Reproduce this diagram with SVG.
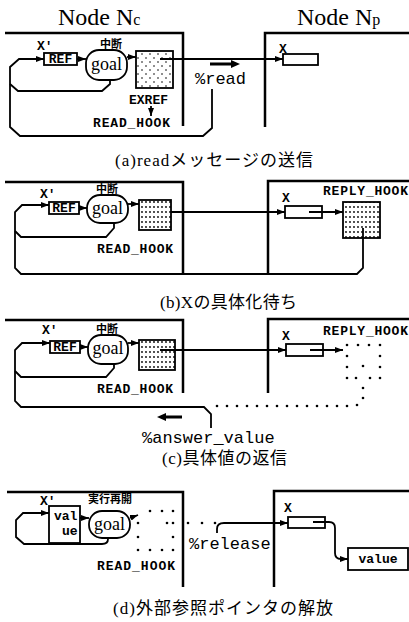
<svg xmlns="http://www.w3.org/2000/svg" width="409" height="622" viewBox="0 0 409 622">
<style>
.fr{fill:none;stroke:#000;stroke-width:2.5}
.ln{fill:none;stroke:#000;stroke-width:1.8}
.bx{fill:#fff;stroke:#000;stroke-width:1.8}
.dt circle{fill:#000}
.mb{font-family:"Liberation Mono",monospace;font-weight:bold;font-size:13px}
.mr{font-family:"Liberation Mono",monospace;font-size:17px}
.t{font-family:"Liberation Serif",serif;font-size:24px}
.g{font-family:"Liberation Serif",serif;font-size:18px;text-anchor:middle}
.cap{font-family:"Liberation Serif","Noto Sans CJK JP",serif;font-size:17px}
.jp{font-family:"Noto Sans CJK JP",sans-serif;font-weight:bold;font-size:11px}
</style>
<defs>
<marker id="ah" viewBox="0 0 8 6" refX="8" refY="3" markerWidth="8" markerHeight="6" markerUnits="userSpaceOnUse" orient="auto"><path d="M0,0 L8,3 L0,6 z" fill="#000"/></marker>
<pattern id="sparse" width="8" height="8" patternUnits="userSpaceOnUse"><circle cx="2" cy="2" r="0.8" fill="#000"/><circle cx="6" cy="6" r="0.8" fill="#000"/></pattern>
<pattern id="dense" width="4" height="5" patternUnits="userSpaceOnUse"><circle cx="2" cy="2" r="0.9" fill="#000"/></pattern>
</defs>

<!-- Titles -->
<text class="t" x="58" y="25">Node N<tspan font-size="16">c</tspan></text>
<text class="t" x="297" y="25">Node N<tspan font-size="16">p</tspan></text>

<!-- ===== Panel (a) ===== -->
<g id="a-nc-frame"><path class="fr" d="M5 33 H183 V126"/></g>
<g id="a-np-frame"><path class="fr" d="M409 33 H265 V127"/></g>
<g id="a-ref"><text class="mb" x="37" y="50">X'</text><rect class="bx" x="44" y="53" width="33" height="12"/><text class="mb" x="60.5" y="63" text-anchor="middle" font-size="11">REF</text></g>
<g id="a-goal"><text class="jp" x="111" y="48" text-anchor="middle">中断</text><rect class="bx" x="86" y="50" width="41" height="30" rx="13"/><text class="g" x="106.5" y="70">goal</text></g>
<g id="a-exref"><rect x="136" y="51" width="37" height="37" fill="url(#sparse)" stroke="#000" stroke-width="1.8"/><text class="mb" x="129" y="104" textLength="39">EXREF</text><text class="mb" x="93" y="127" textLength="77">READ_HOOK</text></g>
<g id="a-x"><rect class="bx" x="283" y="54" width="35" height="11"/><text class="mb" x="279" y="53">X</text></g>
<g id="a-msg"><text class="mr" x="195" y="84">%read</text><path d="M210 62.5 H231 V60 L240 64 L231 68 V65.5 H210 Z" fill="#000"/></g>
<g id="a-connectors">
<path class="ln" d="M77 59 H86" marker-end="url(#ah)"/>
<path class="ln" d="M127 57 H136" marker-end="url(#ah)"/>
<path class="ln" d="M160 59 H283" marker-end="url(#ah)"/>
<path class="ln" d="M151 106 V116" marker-end="url(#ah)"/>
<path class="ln" d="M212 89 V128 L203 136 H20 L10 127 V67 L19 59 H44" marker-end="url(#ah)"/>
<path class="ln" d="M110 80 V84 L102 91 H18 L10 84"/>
</g>
<text class="cap" x="115" y="166" textLength="198" lengthAdjust="spacing">(a)readメッセージの送信</text>

<!-- ===== Panel (b) ===== -->
<g id="b-nc-frame"><path class="fr" d="M5 182 H183 V273"/></g>
<g id="b-np-frame"><path class="fr" d="M409 181 H268 V274"/></g>
<g id="b-ref"><text class="mb" x="40" y="198">X'</text><rect class="bx" x="49" y="202" width="30" height="12"/><text class="mb" x="64" y="212" text-anchor="middle" font-size="11">REF</text></g>
<g id="b-goal"><text class="jp" x="107" y="193" text-anchor="middle">中断</text><rect class="bx" x="87" y="195" width="41" height="28" rx="13"/><text class="g" x="107.5" y="214">goal</text></g>
<g id="b-readhook"><rect x="139" y="200" width="32" height="30" fill="url(#dense)" stroke="#000" stroke-width="1.8"/><text class="mb" x="97" y="253" textLength="76">READ_HOOK</text></g>
<g id="b-x"><rect class="bx" x="285" y="206" width="37" height="12"/><text class="mb" x="282" y="202">X</text></g>
<g id="b-replyhook"><rect x="343" y="202" width="37" height="36" fill="url(#dense)" stroke="#000" stroke-width="1.8"/><text class="mb" x="323" y="195" textLength="85">REPLY_HOOK</text></g>
<g id="b-connectors">
<path class="ln" d="M79 208 H87" marker-end="url(#ah)"/>
<path class="ln" d="M128 204 H139" marker-end="url(#ah)"/>
<path class="ln" d="M171 212 H285" marker-end="url(#ah)"/>
<path class="ln" d="M309 212 H343" marker-end="url(#ah)"/>
<path class="ln" d="M363 228 V268 L357 274 H21 L15 268 V212 L22 205 H49" marker-end="url(#ah)"/>
<path class="ln" d="M114 222 V228 L106 237 H21 L15 231"/>
</g>
<text class="cap" x="160" y="308" textLength="137" lengthAdjust="spacing">(b)Xの具体化待ち</text>

<!-- ===== Panel (c) ===== -->
<g id="c-nc-frame"><path class="fr" d="M5 320 H183 V393"/></g>
<g id="c-np-frame"><path class="fr" d="M409 319 H268 V393"/></g>
<g id="c-ref"><text class="mb" x="42" y="334">X'</text><rect class="bx" x="50" y="341" width="30" height="12"/><text class="mb" x="65" y="351" text-anchor="middle" font-size="11">REF</text></g>
<g id="c-goal"><text class="jp" x="107" y="333" text-anchor="middle">中断</text><rect class="bx" x="88" y="335" width="40" height="29" rx="13"/><text class="g" x="108" y="354">goal</text></g>
<g id="c-readhook"><rect x="139" y="340" width="36" height="30" fill="url(#dense)" stroke="#000" stroke-width="1.8"/><text class="mb" x="97" y="393" textLength="76">READ_HOOK</text></g>
<g id="c-x"><rect class="bx" x="286" y="344" width="37" height="12"/><text class="mb" x="282" y="340">X</text></g>
<g id="c-replyhook">
<g class="dt">
<circle cx="347" cy="345" r="1.3"/><circle cx="358" cy="345" r="1.3"/><circle cx="369" cy="345" r="1.3"/><circle cx="380" cy="345" r="1.3"/>
<circle cx="380" cy="356" r="1.3"/><circle cx="380" cy="367" r="1.3"/><circle cx="380" cy="378" r="1.3"/>
<circle cx="347" cy="356" r="1.3"/><circle cx="347" cy="367" r="1.3"/><circle cx="347" cy="378" r="1.3"/>
<circle cx="356" cy="378" r="1.3"/><circle cx="370" cy="378" r="1.3"/><circle cx="363" cy="366" r="1.3"/>
</g>
<text class="mb" x="323" y="335" textLength="85">REPLY_HOOK</text></g>
<g id="c-msg"><text class="mr" x="142" y="443">%answer_value</text><path d="M182 415.5 H166 V413 L157 417 L166 421 V418.5 H182 Z" fill="#000"/></g>
<g id="c-connectors">
<path class="ln" d="M80 347 H88" marker-end="url(#ah)"/>
<path class="ln" d="M128 343 H139" marker-end="url(#ah)"/>
<path class="ln" d="M160 350 H286" marker-end="url(#ah)"/>
<path class="ln" d="M310 350 H343" marker-end="url(#ah)"/>
<g class="dt">
<circle cx="363" cy="388" r="1.3"/><circle cx="363" cy="398" r="1.3"/><circle cx="357" cy="405" r="1.3"/>
<circle cx="347" cy="406" r="1.3"/><circle cx="337" cy="406" r="1.3"/><circle cx="327" cy="406" r="1.3"/><circle cx="317" cy="406" r="1.3"/>
<circle cx="307" cy="406" r="1.3"/><circle cx="297" cy="406" r="1.3"/><circle cx="287" cy="406" r="1.3"/><circle cx="277" cy="406" r="1.3"/>
<circle cx="267" cy="406" r="1.3"/><circle cx="257" cy="406" r="1.3"/><circle cx="247" cy="406" r="1.3"/><circle cx="237" cy="406" r="1.3"/>
<circle cx="227" cy="406" r="1.3"/><circle cx="217" cy="406" r="1.3"/>
</g>
<path class="ln" d="M211 428 V414 L204 407 H21 L15 401 V350 L22 343 H50" marker-end="url(#ah)"/>
<path class="ln" d="M114 363 V368 L106 377 H21 L15 371"/>
</g>
<text class="cap" x="162" y="464" textLength="125" lengthAdjust="spacing">(c)具体値の返信</text>

<!-- ===== Panel (d) ===== -->
<g id="d-nc-frame"><path class="fr" d="M7 492 H183 V587"/></g>
<g id="d-np-frame"><path class="fr" d="M409 491 H274 V587"/></g>
<g id="d-value"><text class="mb" x="40" y="505">X'</text><rect class="bx" x="49" y="506" width="31" height="37"/><text class="mb" x="54" y="520" font-size="11">val</text><text class="mb" x="62" y="535" font-size="11">ue</text></g>
<g id="d-goal"><text class="jp" x="88" y="503">実行再開</text><rect class="bx" x="89" y="511" width="41" height="27" rx="13"/><text class="g" x="109.5" y="530">goal</text></g>
<g id="d-readhook">
<g class="dt">
<circle cx="150" cy="511" r="1.3"/><circle cx="162" cy="511" r="1.3"/><circle cx="173" cy="511" r="1.3"/>
<circle cx="173" cy="523" r="1.3"/><circle cx="173" cy="537" r="1.3"/><circle cx="173" cy="550" r="1.3"/>
<circle cx="138" cy="523" r="1.3"/><circle cx="138" cy="537" r="1.3"/><circle cx="138" cy="550" r="1.3"/>
<circle cx="150" cy="550" r="1.3"/><circle cx="162" cy="550" r="1.3"/>
<circle cx="167" cy="523" r="1.3"/><circle cx="188" cy="523" r="1.3"/><circle cx="202" cy="523" r="1.3"/><circle cx="215" cy="523" r="1.3"/>
</g>
<text class="mb" x="97" y="570" textLength="78">READ_HOOK</text></g>
<g id="d-x"><rect class="bx" x="288" y="517" width="37" height="11"/><text class="mb" x="284" y="512">X</text></g>
<g id="d-valbox"><rect class="bx" x="348" y="548" width="60" height="22"/><text class="mb" x="378" y="563" text-anchor="middle">value</text></g>
<g id="d-msg"><text class="mr" x="189" y="549">%release</text></g>
<g id="d-connectors">
<path class="ln" d="M80 518 H89" marker-end="url(#ah)"/>
<path class="ln" d="M130 518 L138 515" marker-end="url(#ah)"/>
<path class="ln" d="M217 533 V529 Q217 523 224 523 H288" marker-end="url(#ah)"/>
<path class="ln" d="M313 522 H329 Q335 522 335 528 V553 Q335 559 341 559 H348" marker-end="url(#ah)"/>
<path class="ln" d="M108 538 V539 Q108 544 102 544 H24 L16 537 V520 L23 513 H49" marker-end="url(#ah)"/>
</g>
<text class="cap" x="113" y="614" textLength="220" lengthAdjust="spacing">(d)外部参照ポインタの解放</text>
</svg>
